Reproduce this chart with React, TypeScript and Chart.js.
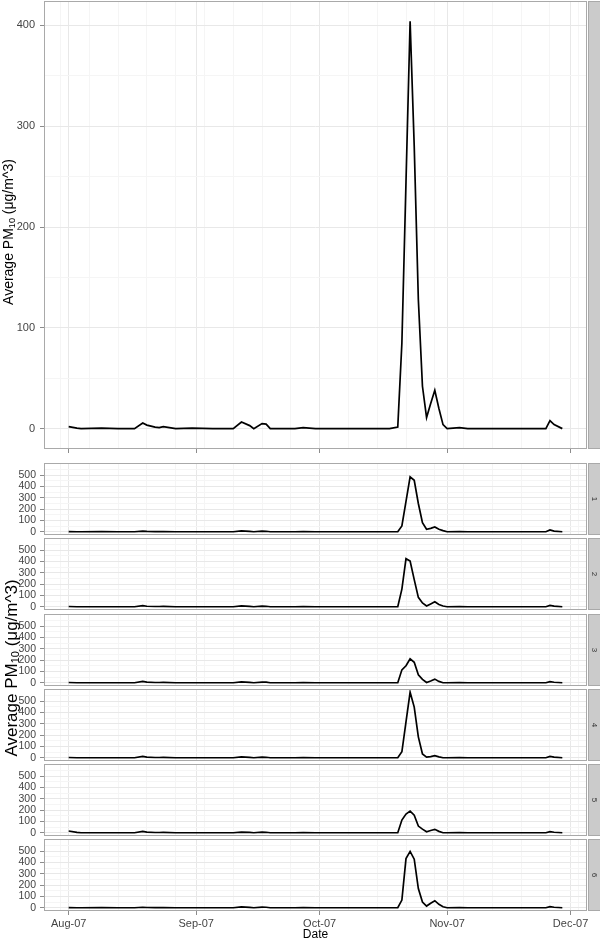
import React, { useEffect, useRef } from "react";
import { Chart, registerables } from "chart.js";
Chart.register(...registerables);

// days since 1 Aug 2007
const DAYS = [0, 2, 3, 8, 12, 16, 18, 19, 21, 22, 23, 26, 30, 35, 40, 42, 44, 45, 47, 48, 49, 55, 57, 60, 70, 78, 80, 81, 82, 83, 84, 85, 86, 87, 88, 89, 90, 91, 92, 95, 97, 105, 116, 117, 118, 120];

const ALL_SITES = [2, 0.5, 0, 0.5, 0, 0, 5.5, 3.5, 1.5, 1, 2, 0, 0.5, 0, 0, 6.5, 3, 0, 5, 4.5, 0, 0, 1, 0, 0, 0, 1.5, 85, 245, 404, 280, 128, 42, 11, 25, 38, 20, 4, 0, 1, 0, 0, 0, 8, 4, 0];
const SITE_1 = [1, 0, 0, 1, 0, 0, 6, 3, 1, 1, 2, 0, 0, 0, 0, 8, 3, 0, 5, 4, 0, 0, 1, 0, 0, 0, 0, 51, 268, 486, 456, 250, 80, 22, 30, 42, 22, 10, 0, 1, 0, 0, 0, 16, 6, 0];
const SITE_2 = [2, 0, 0, 0, 0, 0, 10, 4, 2, 2, 3, 0, 0, 0, 0, 7, 3, 0, 5, 4, 0, 0, 1, 0, 0, 0, 0, 156, 426, 405, 240, 83, 33, 7, 25, 44, 20, 6, 0, 2, 0, 0, 0, 12, 5, 0];
const SITE_3 = [2, 0, 0, 0, 0, 0, 12, 5, 2, 2, 4, 0, 0, 0, 0, 8, 3, 0, 6, 5, 0, 0, 1, 0, 0, 0, 0, 114, 150, 212, 181, 70, 30, 2, 15, 32, 12, 0, 0, 1, 0, 0, 0, 10, 4, 0];
const SITE_4 = [2, 0, 0, 0, 0, 0, 12, 5, 2, 2, 4, 0, 0, 0, 0, 8, 3, 0, 5, 4, 0, 0, 1, 0, 0, 0, 0, 53, 317, 581, 449, 185, 33, 5, 10, 18, 8, 0, 0, 1, 0, 0, 0, 12, 5, 0];
const SITE_5 = [15, 3, 0, 0, 0, 0, 12, 5, 2, 2, 3, 0, 0, 0, 0, 6, 3, 0, 5, 4, 0, 0, 1, 0, 0, 0, 0, 112, 165, 191, 156, 59, 32, 9, 20, 30, 12, 0, 0, 1, 0, 0, 0, 10, 4, 0];
const SITE_6 = [1, 0, 0, 1, 0, 0, 4, 2, 1, 1, 2, 0, 0, 0, 0, 8, 3, 0, 6, 4, 0, 0, 1, 0, 0, 0, 0, 68, 435, 499, 430, 170, 50, 15, 40, 62, 30, 9, 0, 1, 0, 0, 0, 10, 4, 0];

const SITE_SERIES = [SITE_1, SITE_2, SITE_3, SITE_4, SITE_5, SITE_6];
const SITE_LABELS = ["1", "2", "3", "4", "5", "6"];

const MONTH_TICKS = [0, 31, 61, 92, 122];
const MONTH_LABELS = ["Aug-07", "Sep-07", "Oct-07", "Nov-07", "Dec-07"];
const WEEK_TICKS = [-2, 5, 12, 19, 26, 33, 40, 47, 54, 61, 68, 75, 82, 89, 96, 103, 110, 117, 124];

const TOP_MAJOR_Y = [0, 100, 200, 300, 400];
const TOP_MINOR_Y = [50, 150, 250, 350];
const SUB_MAJOR_Y = [0, 100, 200, 300, 400, 500];
const SUB_MINOR_Y = [50, 150, 250, 350, 450, 550];

const FONT = '"Liberation Sans", Arial, Helvetica, sans-serif';

type PanelProps = {
  values: number[];
  yMin: number;
  yMax: number;
  majorY: number[];
  minorY: number[];
  strip: string;
  plotTop: number;
  plotHeight: number;
  xMode: "ticks" | "none" | "full";
  tickFont: number;
  tickPad: number;
};

function Panel(p: PanelProps) {
  const ref = useRef<HTMLCanvasElement>(null);
  const padTop = p.xMode === "ticks" ? 1 : 8;
  const xH = p.xMode === "ticks" ? 6 : p.xMode === "full" ? 31 : 0;
  const padBottom = p.xMode === "none" ? 8 : 0;
  const height = padTop + p.plotHeight + xH + padBottom;
  const top = p.plotTop - padTop;

  useEffect(() => {
    const canvas = ref.current!;
    const frame = {
      id: "frame",
      afterDraw(chart: any) {
        const { ctx, chartArea: a } = chart;
        ctx.save();
        ctx.strokeStyle = "#a9a9a9";
        ctx.lineWidth = 1;
        ctx.strokeRect(a.left + 0.5, a.top + 0.5, a.right - a.left - 1, a.bottom - a.top - 1);
        const sx = a.right + 1;
        const sw = chart.width - sx;
        ctx.fillStyle = "#cbcbcb";
        ctx.fillRect(sx, a.top, sw, a.bottom - a.top);
        ctx.strokeStyle = "#a9a9a9";
        ctx.strokeRect(sx + 0.5, a.top + 0.5, sw, a.bottom - a.top - 1);
        if (p.strip) {
          ctx.translate(sx + sw / 2, (a.top + a.bottom) / 2);
          ctx.rotate(Math.PI / 2);
          ctx.fillStyle = "#333";
          ctx.font = `8px ${FONT}`;
          ctx.textAlign = "center";
          ctx.textBaseline = "middle";
          ctx.fillText(p.strip, 0, 0);
        }
        ctx.restore();
      },
    };
    const xTicks = Array.from(new Set([...WEEK_TICKS, ...MONTH_TICKS])).sort((a, b) => a - b);
    const yTicks = [...p.majorY, ...p.minorY].sort((a, b) => a - b);
    const chart = new Chart(canvas, {
      type: "line",
      data: {
        datasets: [
          {
            data: DAYS.map((d, i) => ({ x: d, y: p.values[i] })),
            borderColor: "#000",
            borderWidth: 1.7,
            pointRadius: 0,
            tension: 0,
            fill: false,
          },
        ],
      },
      options: {
        responsive: false,
        animation: false,
        events: [],
        layout: { padding: { top: padTop, bottom: padBottom, left: 0, right: 13 } },
        plugins: { legend: { display: false }, tooltip: { enabled: false } },
        scales: {
          x: {
            type: "linear",
            min: -6,
            max: 126,
            bounds: "data",
            afterBuildTicks: (s: any) => {
              s.ticks = xTicks.map((v) => ({ value: v }));
            },
            afterFit: (s: any) => {
              s.height = xH;
              s.paddingLeft = 0;
              s.paddingRight = 0;
              s.paddingTop = 0;
              s.paddingBottom = 0;
            },
            ticks: {
              display: p.xMode === "full",
              autoSkip: false,
              maxRotation: 0,
              padding: 2,
              color: "#444",
              font: { family: FONT, size: 11 },
              callback: (v: any) => {
                const i = MONTH_TICKS.indexOf(Number(v));
                return i >= 0 ? MONTH_LABELS[i] : "";
              },
            },
            grid: {
              color: (c: any) => (c.tick && MONTH_TICKS.includes(c.tick.value) ? "#e8e8e8" : "#f5f5f5"),
              lineWidth: 1,
              drawTicks: p.xMode !== "none",
              tickLength: 4,
              tickColor: (c: any) => (c.tick && MONTH_TICKS.includes(c.tick.value) ? "#8c8c8c" : "rgba(0,0,0,0)"),
            },
            border: { display: false },
            title: {
              display: p.xMode === "full",
              text: "Date",
              color: "#000",
              font: { family: FONT, size: 12 },
              padding: 0,
            },
          },
          y: {
            type: "linear",
            min: p.yMin,
            max: p.yMax,
            bounds: "data",
            afterBuildTicks: (s: any) => {
              s.ticks = yTicks.map((v) => ({ value: v }));
            },
            afterFit: (s: any) => {
              s.width = 44;
              s.paddingTop = 0;
              s.paddingBottom = 0;
              s.paddingLeft = 0;
              s.paddingRight = 0;
            },
            ticks: {
              autoSkip: false,
              padding: p.tickPad,
              color: "#444",
              font: { family: FONT, size: p.tickFont },
              callback: (v: any) => (p.majorY.includes(Number(v)) ? String(v) : ""),
            },
            grid: {
              color: (c: any) => (c.tick && p.majorY.includes(c.tick.value) ? "#e8e8e8" : "#f5f5f5"),
              lineWidth: 1,
              drawTicks: true,
              tickLength: 4,
              tickColor: (c: any) => (c.tick && p.majorY.includes(c.tick.value) ? "#8c8c8c" : "rgba(0,0,0,0)"),
            },
            border: { display: false },
          },
        },
      } as any,
      plugins: [frame],
    });
    return () => chart.destroy();
  }, []);

  return (
    <canvas
      ref={ref}
      width={600}
      height={height}
      style={{ position: "absolute", left: 0, top, width: 600, height }}
    />
  );
}

const yTitleStyle = (cx: number, cy: number, size: number): React.CSSProperties => ({
  position: "absolute",
  left: cx,
  top: cy,
  transform: "translate(-50%, -50%) rotate(-90deg)",
  whiteSpace: "nowrap",
  fontFamily: FONT,
  fontSize: size,
  color: "#000",
  lineHeight: 1,
});

const subStyle: React.CSSProperties = { fontSize: "0.65em", verticalAlign: "-0.2em", lineHeight: 0 };

const SUB_TOPS = [463, 538, 614, 689, 764, 839];

export default function App() {
  return (
    <div style={{ position: "absolute", left: 0, top: 0, width: 600, height: 942, background: "#fff", overflow: "hidden" }}>
      <Panel
        values={ALL_SITES}
        yMin={-20.2}
        yMax={424.2}
        majorY={TOP_MAJOR_Y}
        minorY={TOP_MINOR_Y}
        strip=""
        plotTop={1}
        plotHeight={448}
        xMode="ticks"
        tickFont={11}
        tickPad={5}
      />
      {SITE_SERIES.map((vals, i) => (
        <Panel
          key={i}
          values={vals}
          yMin={-29}
          yMax={609}
          majorY={SUB_MAJOR_Y}
          minorY={SUB_MINOR_Y}
          strip={SITE_LABELS[i]}
          plotTop={SUB_TOPS[i]}
          plotHeight={72}
          xMode={i === SITE_SERIES.length - 1 ? "full" : "none"}
          tickFont={10.5}
          tickPad={4}
        />
      ))}
      <div style={yTitleStyle(8, 232, 14)}>
        Average PM<sub style={subStyle}>10</sub> (μg/m^3)
      </div>
      <div style={yTitleStyle(10.5, 668, 17)}>
        Average PM<sub style={subStyle}>10</sub> (μg/m^3)
      </div>
    </div>
  );
}
